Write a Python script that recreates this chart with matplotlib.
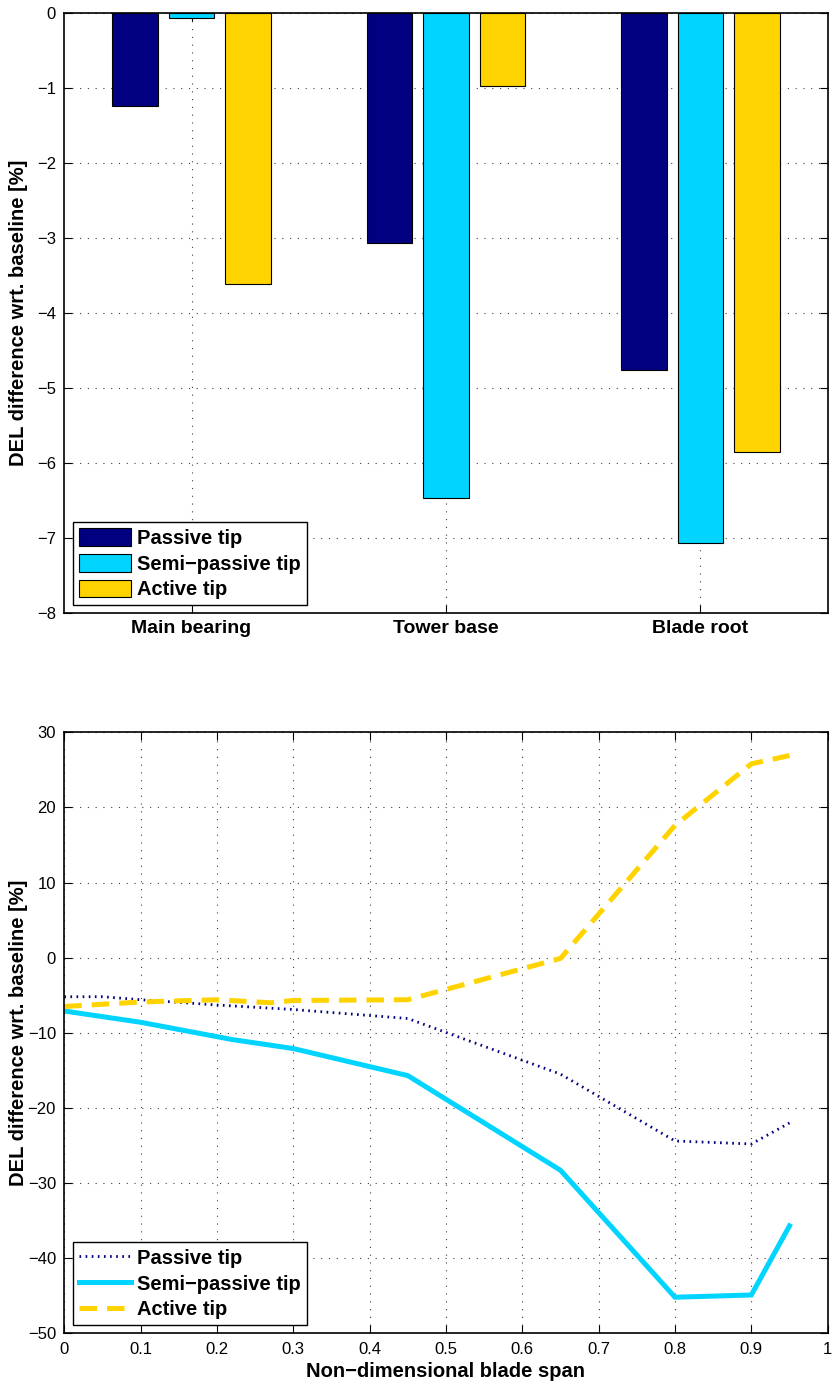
import matplotlib.pyplot as plt
import numpy as np

plt.rcParams['font.family'] = ['Liberation Sans', 'DejaVu Sans']

# top panel: DEL difference per load location
locations = ['Main bearing', 'Tower base', 'Blade root']
passive_del = [-1.25, -3.07, -4.76]
semi_passive_del = [-0.07, -6.46, -7.07]
active_del = [-3.62, -0.98, -5.85]

# bottom panel: DEL difference along the blade span
span_passive = [0.0, 0.05, 0.1, 0.2, 0.3, 0.45, 0.65, 0.8, 0.9, 0.95]
del_passive = [-5.2, -5.2, -5.6, -6.3, -6.9, -8.1, -15.5, -24.4, -24.8, -22.0]
span_semi = [0.0, 0.1, 0.22, 0.3, 0.45, 0.65, 0.8, 0.9, 0.95]
del_semi = [-7.1, -8.6, -10.9, -12.1, -15.7, -28.3, -45.2, -44.9, -35.7]
span_active = [0.0, 0.1, 0.2, 0.27, 0.3, 0.45, 0.65, 0.8, 0.9, 0.95]
del_active = [-6.5, -5.9, -5.6, -6.0, -5.7, -5.6, -0.1, 17.6, 25.8, 26.9]

labels = ['Passive tip', 'Semi\u2212passive tip', 'Active tip']
NAVY = '#000080'
CYAN = '#00D4FF'
GOLD = '#FFD300'

TICK_FS = 12
LABEL_FS = 14.5


def style_axes(ax):
    ax.tick_params(direction='in', top=True, right=True, length=6,
                   width=0.8, labelsize=TICK_FS, pad=6)
    ax.grid(True, color='0.25', linestyle=(0, (1, 6)), linewidth=0.8)
    ax.set_axisbelow(True)
    for sp in ax.spines.values():
        sp.set_linewidth(1.2)
    ax.set_ylabel('DEL difference wrt. baseline [%]', fontsize=LABEL_FS,
                  fontweight='bold')
    ax.yaxis.set_label_coords(-0.047, 0.5)


def add_legend(ax, handles=None):
    leg = ax.legend(handles=handles, labels=labels, loc='lower left',
                    bbox_to_anchor=(0.011, 0.013), borderaxespad=0,
                    prop={'size': LABEL_FS, 'weight': 'bold'},
                    fancybox=False, framealpha=1, edgecolor='black',
                    handlelength=2.6, handleheight=0.95, handletextpad=0.3,
                    labelspacing=0.3, borderpad=0.3)
    leg.get_frame().set_linewidth(1.0)
    return leg


fig = plt.figure(figsize=(8.34, 13.89), dpi=100)
ax1 = fig.add_axes([0.0771, 0.5585, 0.9153, 0.4324])
ax2 = fig.add_axes([0.0771, 0.0401, 0.9153, 0.4327])

# bars
x = np.arange(1, len(locations) + 1)
off = 0.222
w = 0.178
b1 = ax1.bar(x - off, passive_del, w, color=NAVY, edgecolor='black', linewidth=0.8)
b2 = ax1.bar(x, semi_passive_del, w, color=CYAN, edgecolor='black', linewidth=0.8)
b3 = ax1.bar(x + off, active_del, w, color=GOLD, edgecolor='black', linewidth=0.8)
ax1.set_xlim(0.5, 3.5)
ax1.set_ylim(-8, 0)
ax1.set_yticks(range(-8, 1))
ax1.set_xticks(x)
ax1.set_xticklabels(locations, fontsize=14, fontweight='bold')
style_axes(ax1)
ax1.tick_params(axis='x', pad=5, labelsize=14)
add_legend(ax1, [b1, b2, b3])

# lines
l1, = ax2.plot(span_passive, del_passive, color=NAVY, linewidth=2.0,
               linestyle=(0, (0.6, 1.6)))
l2, = ax2.plot(span_semi, del_semi, color=CYAN, linewidth=3.6,
               solid_joinstyle='miter')
l3, = ax2.plot(span_active, del_active, color=GOLD, linewidth=3.6,
               linestyle=(0, (3.5, 2.0)), dash_capstyle='butt')
ax2.set_xlim(0, 1)
ax2.set_ylim(-50, 30)
ax2.set_xticks(np.round(np.arange(0, 1.01, 0.1), 1))
ax2.set_xticklabels(['0', '0.1', '0.2', '0.3', '0.4', '0.5', '0.6', '0.7',
                     '0.8', '0.9', '1'])
ax2.set_yticks(range(-50, 31, 10))
style_axes(ax2)
ax2.set_xlabel('Non\u2212dimensional blade span', fontsize=LABEL_FS,
               fontweight='bold', labelpad=4)
add_legend(ax2, [l1, l2, l3])

fig.savefig('out.png', dpi=100)
